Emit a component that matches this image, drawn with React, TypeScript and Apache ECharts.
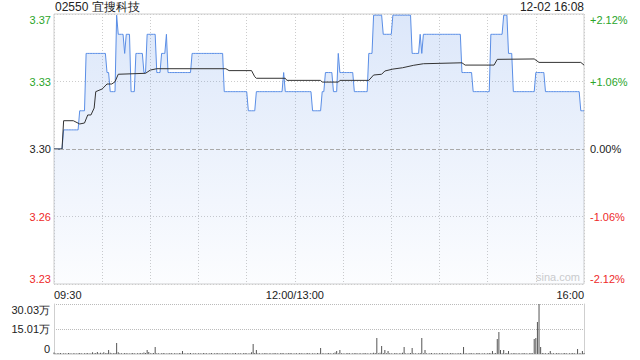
import React, { useEffect, useRef } from "react";
import * as echarts from "echarts";

const stockTitle = "02550 宜搜科技";
const stampText = "12-02 16:08";
const prevClose = 3.3;

// price runs: [price, minutes]
const priceRunValues = [3.30, 3.31, 3.32, 3.35, 3.34, 3.33, 3.37, 3.36, 3.35, 3.36, 3.33, 3.35, 3.34, 3.36, 3.34, 3.35, 3.36, 3.34, 3.35, 3.33, 3.32, 3.33, 3.34, 3.33, 3.32, 3.33, 3.34, 3.33, 3.35, 3.34, 3.33, 3.35, 3.37, 3.36, 3.37, 3.35, 3.36, 3.35, 3.36, 3.34, 3.33, 3.36, 3.37, 3.35, 3.33, 3.34, 3.33, 3.32];
const priceRunLengths = [6, 10, 4, 13, 2, 4, 1, 4, 1, 3, 3, 5, 2, 6, 3, 3, 1, 15, 20, 15, 5, 17, 1, 17, 6, 2, 5, 3, 1, 9, 9, 3, 6, 6, 12, 5, 1, 1, 24, 7, 11, 8, 3, 3, 14, 6, 22, 3];

const avgTimes = [0, 5, 6, 12, 16, 19, 21, 23, 25, 26, 30, 33, 36, 38, 40, 57, 60, 64, 107, 109, 123, 125, 126, 144, 145, 166, 167, 177, 178, 196, 199, 204, 206, 211, 217, 224, 230, 254, 256, 274, 276, 299, 302, 328, 330];
const avgValues = [3.3, 3.3, 3.3148, 3.3148, 3.3131, 3.3136, 3.3178, 3.3178, 3.3214, 3.33, 3.3314, 3.334, 3.334, 3.3352, 3.3391, 3.3396, 3.3413, 3.342, 3.342, 3.341, 3.341, 3.3378, 3.337, 3.337, 3.3359, 3.3359, 3.335, 3.335, 3.3359, 3.3359, 3.3387, 3.3391, 3.3408, 3.3418, 3.3425, 3.3438, 3.3446, 3.3451, 3.3439, 3.3439, 3.3469, 3.3471, 3.3453, 3.3453, 3.3439];

// volume per minute, in 万
const volumes = [
  0.9, 0.3, 0.5, 0.4, 0.6, 0.3, 0.4, 0.5, 0.3, 0.6, 0.4, 0.3, 0.5, 0.4, 0.3, 0.5, 0.6, 0.4, 0.3, 0.5, 0.4, 0.6, 0.3, 0.5, 1.0, 0.4, 0.6, 1.2, 0.5, 0.8,
  0.4, 1.1, 0.5, 0.6, 2.4, 0.8, 0.5, 0.4, 0.6, 6.6, 1.0, 0.5, 0.4, 0.3, 0.6, 0.4, 0.5, 0.3, 0.4, 0.6, 0.5, 0.3, 0.4, 0.5, 0.6, 0.4, 0.9, 0.6, 2.4, 1.2,
  0.5, 0.4, 0.6, 4.2, 0.5, 0.4, 0.3, 0.5, 0.6, 0.4, 0.3, 0.5, 0.4, 0.6, 0.3, 0.5, 0.4, 0.3, 0.6, 0.5, 1.8, 0.4, 0.3, 0.5, 0.4, 0.6, 0.3, 0.4, 0.5, 0.3,
  0.4, 0.5, 0.3, 0.6, 0.4, 0.5, 0.3, 0.4, 0.6, 0.3, 0.5, 0.4, 0.6, 0.3, 0.5, 0.4, 0.3, 0.6, 0.4, 0.5, 0.3, 0.4, 0.5, 0.6, 0.3, 0.4, 0.5, 0.3, 0.4, 0.6,
  0.5, 0.3, 0.4, 1.0, 6.0, 0.6, 2.4, 0.5, 0.4, 0.3, 0.5, 0.4, 0.6, 0.3, 0.4, 0.5, 0.3, 0.6, 0.4, 0.5, 0.3, 0.4, 0.6, 0.5, 0.3, 0.4, 0.5, 0.6, 0.4, 0.3,
  0.5, 0.4, 0.3, 0.6, 0.4, 0.5, 0.3, 0.4, 0.6, 0.5, 0.3, 0.4, 0.5, 0.3, 0.6, 0.4, 3.6, 0.5, 0.4, 0.3, 0.5, 0.6, 0.4, 0.3, 0.5, 0.9, 1.8, 0.4, 2.4, 0.5,
  0.4, 0.3, 0.5, 0.6, 0.4, 0.3, 0.5, 0.4, 0.6, 0.3, 0.5, 0.4, 0.3, 0.6, 0.5, 0.4, 0.3, 0.5, 0.4, 0.8, 0.6, 9.6, 0.5, 0.8, 4.8, 0.6, 2.4, 0.5, 1.8, 0.4,
  0.5, 0.3, 0.4, 0.6, 0.3, 0.5, 0.4, 0.8, 4.2, 0.5, 0.3, 0.4, 0.6, 3.6, 0.5, 0.4, 0.3, 0.5, 0.6, 9.6, 0.4, 2.4, 0.5, 0.3, 0.4, 0.6, 0.3, 0.5, 0.4, 0.3,
  0.5, 0.4, 0.6, 0.3, 0.5, 0.4, 0.3, 0.6, 0.5, 0.4, 0.3, 0.5, 0.4, 0.6, 0.3, 4.2, 0.5, 0.4, 0.3, 0.6, 0.4, 0.5, 0.3, 0.4, 0.6, 0.5, 0.3, 0.4, 0.5, 0.3,
  0.4, 0.6, 0.5, 1.8, 0.4, 0.6, 9.0, 13.2, 2.4, 0.5, 2.4, 0.4, 0.6, 1.8, 0.3, 0.5, 0.4, 0.6, 0.3, 0.5, 0.4, 0.3, 0.6, 0.5, 0.4, 0.3, 0.5, 0.6, 0.4, 9.0,
  9.6, 19.2, 30.03, 4.2, 0.6, 0.5, 0.4, 0.3, 0.6, 1.8, 0.4, 0.5, 0.3, 0.6, 0.4, 0.5, 0.3, 0.4, 0.6, 0.5, 0.3, 0.4, 0.5, 0.6, 0.4, 0.3, 3.0, 0.5, 0.4, 1.8, 0.6,
];

const priceTickLabels = ["3.23", "3.26", "3.30", "3.33", "3.37"];
const pctTickLabels = ["-2.12%", "-1.06%", "0.00%", "+1.06%", "+2.12%"];
const volTickLabels = ["0", "15.01万", "30.03万"];
const timeLabelAt = [0, 150, 330];
const timeLabels = ["09:30", "12:00/13:00", "16:00"];

const GREEN = "#2aa52a";
const RED = "#ee2a2a";
const BLACK = "#222";
const FONT = "'Liberation Sans', Arial, sans-serif";

const pct = (p: number) => (p / prevClose - 1) * 100;
const PCT_MAX = 2.14;
const PCT_INT = 1.07;
const VOL_MAX = 30.03;

export default function App() {
  const ref = useRef<HTMLDivElement>(null);
  useEffect(() => {
    document.body.style.margin = "0";
    const chart = echarts.init(ref.current!, null, { renderer: "svg" });

    const priceSeries: number[][] = [];
    let t = 0;
    priceRunValues.forEach((p, i) => {
      for (let k = 0; k < priceRunLengths[i]; k++) {
        priceSeries.push([t, pct(p)]);
        t++;
      }
    });
    const avgSeries = avgTimes.map((tt, i) => [tt, pct(avgValues[i])]);
    const volSeries = volumes.map((v, i) => [i, v]);

    const tickIdx = (v: number) => Math.round(v / PCT_INT) + 2;
    const tickColor = (v: any) => {
      const i = tickIdx(Number(v));
      return i > 2 ? GREEN : i < 2 ? RED : BLACK;
    };

    chart.setOption({
      animation: false,
      textStyle: { fontFamily: FONT },
      grid: [
        { left: 54, top: 14, width: 530, height: 270, show: true, borderColor: "#cfcfcf", borderWidth: 1, backgroundColor: "transparent" },
        { left: 54, top: 304, width: 530, height: 50 },
      ],
      xAxis: [
        {
          type: "value", gridIndex: 0, min: 0, max: 330, interval: 30,
          axisLine: { show: false }, axisTick: { show: false },
          splitLine: { show: true, lineStyle: { color: "#cccccc", type: [1, 2], width: 1 } },
          axisLabel: {
            show: true, fontSize: 11, color: "#222", margin: 5, fontFamily: FONT,
            alignMinLabel: "left", alignMaxLabel: "right",
            showMinLabel: true, showMaxLabel: true,
            formatter: (v: number) => {
              const i = timeLabelAt.indexOf(Math.round(v));
              return i >= 0 ? timeLabels[i] : "";
            },
          },
        },
        {
          type: "value", gridIndex: 1, min: 0, max: 330, interval: 30,
          axisLine: { show: true, lineStyle: { color: "#dddddd" } }, axisTick: { show: false },
          splitLine: { show: false }, axisLabel: { show: false },
        },
      ],
      yAxis: [
        {
          type: "value", gridIndex: 0, min: -PCT_MAX, max: PCT_MAX, interval: PCT_INT,
          axisLine: { show: false }, axisTick: { show: false },
          splitLine: { show: true, lineStyle: { color: "#cccccc", type: [1, 2], width: 1 } },
          axisLabel: {
            fontSize: 11, margin: 3, fontFamily: FONT,
            verticalAlignMinLabel: "bottom", verticalAlignMaxLabel: "top",
            color: tickColor,
            formatter: (v: number) => priceTickLabels[tickIdx(v)] ?? "",
          },
        },
        {
          type: "value", gridIndex: 0, position: "right", min: -PCT_MAX, max: PCT_MAX, interval: PCT_INT,
          axisLine: { show: false }, axisTick: { show: false }, splitLine: { show: false },
          axisLabel: {
            fontSize: 11, margin: 6, fontFamily: FONT,
            verticalAlignMinLabel: "bottom", verticalAlignMaxLabel: "top",
            color: tickColor,
            formatter: (v: number) => pctTickLabels[tickIdx(v)] ?? "",
          },
        },
        {
          type: "value", gridIndex: 1, min: 0, max: VOL_MAX, interval: VOL_MAX / 2,
          axisLine: { show: true, lineStyle: { color: "#cfcfcf" } }, axisTick: { show: false },
          splitLine: { show: true, lineStyle: { color: "#bbbbbb", type: [1, 1], width: 1 } },
          axisLabel: {
            fontSize: 11, margin: 4, color: "#222", fontFamily: FONT,
            verticalAlignMinLabel: "bottom", verticalAlignMaxLabel: "top",
            formatter: (v: number) => volTickLabels[Math.round(v / (VOL_MAX / 2))] ?? "",
          },
        },
        {
          type: "value", gridIndex: 1, position: "right", min: 0, max: VOL_MAX, interval: VOL_MAX / 2,
          axisLine: { show: true, lineStyle: { color: "#cfcfcf" } }, axisTick: { show: false },
          splitLine: { show: false }, axisLabel: { show: false },
        },
      ],
      series: [
        {
          type: "line", xAxisIndex: 0, yAxisIndex: 0, data: priceSeries,
          symbol: "none", clip: false,
          lineStyle: { color: "#5a8ee6", width: 1 },
          areaStyle: {
            origin: "start",
            color: new echarts.graphic.LinearGradient(0, 0, 0, 1, [
              { offset: 0, color: "rgba(90,142,230,0.30)" },
              { offset: 1, color: "rgba(90,142,230,0.03)" },
            ]),
          },
          markLine: {
            silent: true, symbol: "none", label: { show: false },
            lineStyle: { color: "#aaaaaa", type: [4, 2], width: 1 },
            data: [{ yAxis: 0 }],
          },
          z: 2,
        },
        {
          type: "line", xAxisIndex: 0, yAxisIndex: 0, data: avgSeries,
          symbol: "none", lineStyle: { color: "#333333", width: 1 }, z: 3,
        },
        {
          type: "bar", xAxisIndex: 1, yAxisIndex: 2, data: volSeries,
          barWidth: 1, itemStyle: { color: "#555555" },
        },
      ],
      graphic: [
        { type: "text", left: 55, top: 1, style: { text: stockTitle, fontSize: 12, fill: "#222", font: "12px 'Liberation Sans', 'Noto Sans CJK SC', sans-serif" } },
        { type: "text", right: 56, top: 1, style: { text: stampText, fontSize: 12, fill: "#222", font: "12px 'Liberation Sans', sans-serif" } },
        { type: "text", right: 60, top: 271, style: { text: "sina.com", fill: "#cccccc", font: "11px 'Liberation Sans', sans-serif" } },
      ],
    });
    return () => chart.dispose();
  }, []);
  return <div ref={ref} style={{ width: 640, height: 360 }} />;
}
